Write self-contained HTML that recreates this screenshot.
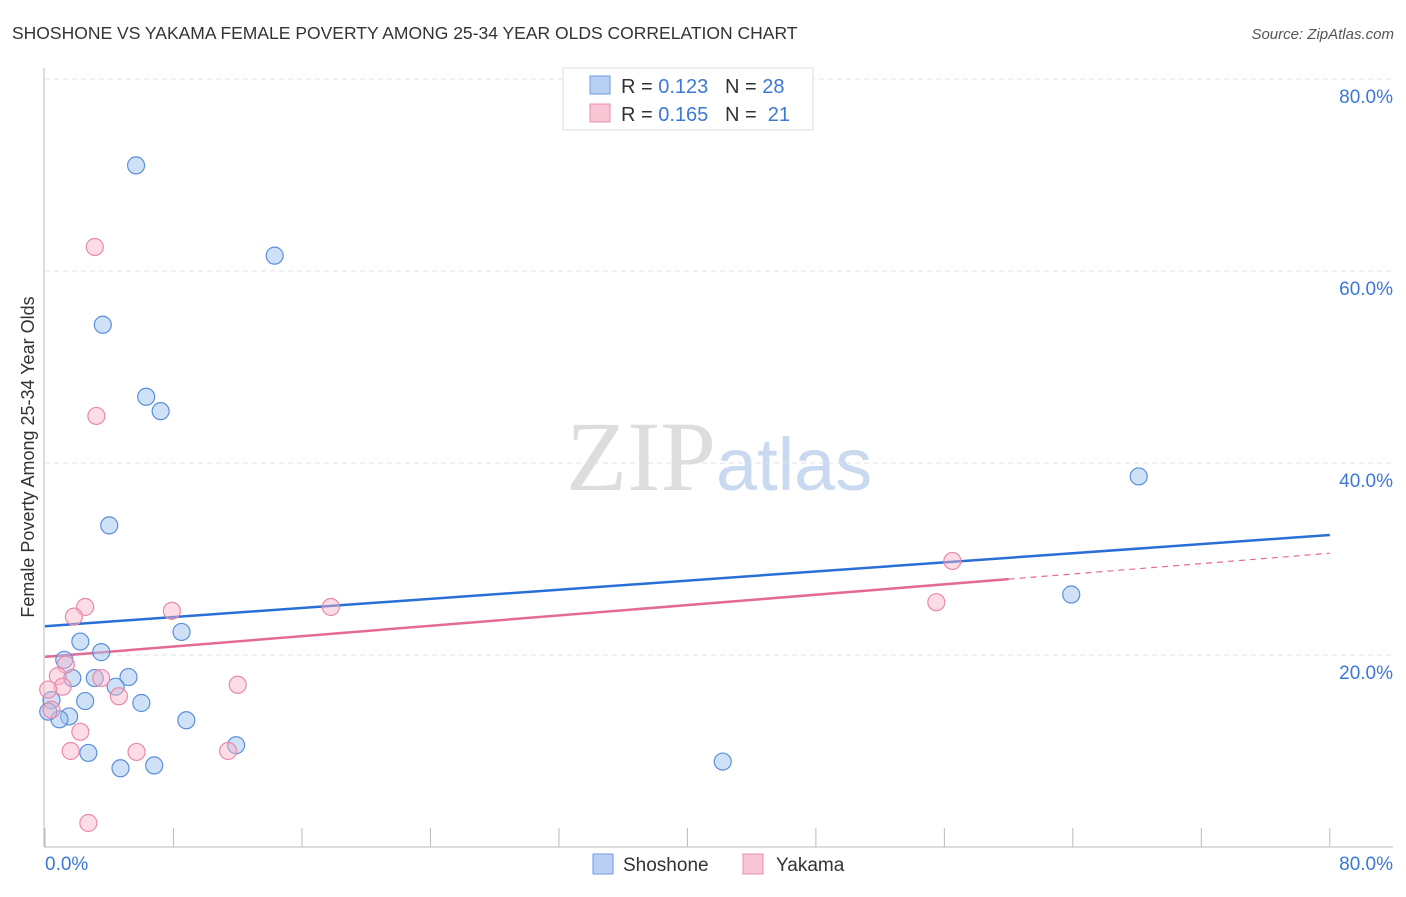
<!DOCTYPE html>
<html><head><meta charset="utf-8"><style>
body{margin:0;background:#fff;font-family:"Liberation Sans",sans-serif;}
svg text{font-family:"Liberation Sans",sans-serif;}
</style></head><body>
<svg id="chart" width="1406" height="892">
<text x="12" y="39" font-size="17.5" fill="#333">SHOSHONE VS YAKAMA FEMALE POVERTY AMONG 25-34 YEAR OLDS CORRELATION CHART</text>
<text x="1394" y="39" font-size="15" fill="#555" font-style="italic" text-anchor="end">Source: ZipAtlas.com</text>
<text x="716" y="490" font-size="100" fill="#ddd" text-anchor="end" style="font-family:'Liberation Serif',serif">ZIP</text>
<text x="716" y="490" font-size="74" fill="#c9d9f0">atlas</text>
<text transform="translate(34,457) rotate(-90)" font-size="18" fill="#333" text-anchor="middle">Female Poverty Among 25-34 Year Olds</text>
<g id="grid"></g><g id="axes"></g><g id="lines"></g><g id="pts"></g>
<g>
<rect x="563" y="68" width="250" height="62" fill="#fff" stroke="#ddd"/>
<rect x="590" y="76" width="20" height="18" fill="#b7d0f4" stroke="#6b9be0"/>
<rect x="590" y="104" width="20" height="18" fill="#f9c6d5" stroke="#e98fae"/>
<text x="621" y="93" font-size="20" fill="#333">R = <tspan fill="#3b78d8">0.123</tspan>&#160;&#160;&#160;N = <tspan fill="#3b78d8">28</tspan></text>
<text x="621" y="121" font-size="20" fill="#333">R = <tspan fill="#3b78d8">0.165</tspan>&#160;&#160;&#160;N = &#160;<tspan fill="#3b78d8">21</tspan></text>
</g>
<g>
<rect x="593" y="854" width="20" height="20" fill="#b7d0f4" stroke="#6b9be0"/>
<text x="623" y="871" font-size="19" fill="#333">Shoshone</text>
<rect x="743" y="854" width="20" height="20" fill="#f9c6d5" stroke="#e98fae"/>
<text x="776" y="871" font-size="19" fill="#333">Yakama</text>
</g>
</svg>
<script>
const yTicks=[20,40,60,80];
const yTickLabels=["20.0%","40.0%","60.0%","80.0%"];
const shoshoneX=[5.67,14.3,3.6,6.3,7.2,4.0,8.5,2.2,3.5,1.2,1.7,3.1,5.2,4.4,0.4,2.5,6.0,1.5,0.9,8.8,11.9,2.7,4.7,6.8,42.2,63.9,68.1,0.2];
const shoshoneY=[71.0,61.6,54.4,46.9,45.4,33.5,22.4,21.4,20.3,19.5,17.6,17.6,17.7,16.7,15.3,15.2,15.0,13.6,13.3,13.2,10.6,9.8,8.2,8.5,8.9,26.3,38.6,14.1];
const yakamaX=[3.1,3.2,2.5,1.8,7.9,17.8,56.5,55.5,1.3,0.8,1.1,3.5,4.6,12.0,2.2,1.6,5.7,11.4,2.7,0.4,0.2];
const yakamaY=[62.5,44.9,25.0,24.0,24.6,25.0,29.8,25.5,19.0,17.8,16.7,17.6,15.7,16.9,12.0,10.0,9.9,10.0,2.5,14.3,16.4];
const shoshoneTrend=[23.0,32.5];
const yakamaTrend=[19.8,30.6];
const yakamaSolidEnd=60;
const NS="http://www.w3.org/2000/svg";
const X=v=>45+v*16.06, Y=v=>847-v*9.6;
function mk(p,t,a){const e=document.createElementNS(NS,t);for(const k in a)e.setAttribute(k,a[k]);document.getElementById(p).appendChild(e);return e;}
yTicks.forEach((t,i)=>{
 const g=mk('grid','line',{x1:45,x2:1393,y1:Y(t),y2:Y(t),stroke:'#e2e2e2','stroke-dasharray':'5,4'});
 
 
 const l=mk('grid','text',{x:1393,y:Y(t)+24,'text-anchor':'end','font-size':19,fill:'#3b78d8'});
 l.textContent=yTickLabels[i];
 
 
});
mk('axes','line',{x1:44,x2:44,y1:68,y2:847,stroke:'#bbb'});
mk('axes','line',{x1:44,x2:1393,y1:847,y2:847,stroke:'#bbb'});
for(let i=0;i<=10;i++){const x=X(i*8);const t=mk('axes','line',{x1:x,x2:x,y1:828,y2:847,stroke:'#bbb'});
 
 }
const x0=mk('axes','text',{x:45,y:870,'font-size':19,fill:'#3b78d8'});x0.textContent='0.0%';


const x1=mk('axes','text',{x:1393,y:870,'font-size':19,fill:'#3b78d8','text-anchor':'end'});x1.textContent='80.0%';


const slope=(yakamaTrend[1]-yakamaTrend[0])/80;
let l1=mk('lines','line',{x1:X(0),y1:Y(shoshoneTrend[0]),x2:X(80),y2:Y(shoshoneTrend[1]),stroke:'#2a6fd6','stroke-width':2.5});


let l2=mk('lines','line',{x1:X(0),y1:Y(yakamaTrend[0]),x2:X(yakamaSolidEnd),y2:Y(yakamaTrend[0]+slope*yakamaSolidEnd),stroke:'#e46a95','stroke-width':2.5});


let l3=mk('lines','line',{x1:X(yakamaSolidEnd),y1:Y(yakamaTrend[0]+slope*yakamaSolidEnd),x2:X(80),y2:Y(yakamaTrend[1]),stroke:'#e46a95','stroke-width':1.2,'stroke-dasharray':'6,5'});


shoshoneX.forEach((v,i)=>{const c=mk('pts','circle',{cx:X(v),cy:Y(shoshoneY[i]),r:8.5,fill:'rgba(160,195,240,0.5)',stroke:'#5b8fd9','stroke-width':1.2});
 
 });
yakamaX.forEach((v,i)=>{const c=mk('pts','circle',{cx:X(v),cy:Y(yakamaY[i]),r:8.5,fill:'rgba(248,180,200,0.45)',stroke:'#e88aa8','stroke-width':1.2});
 
 });
</script>
</body></html>
